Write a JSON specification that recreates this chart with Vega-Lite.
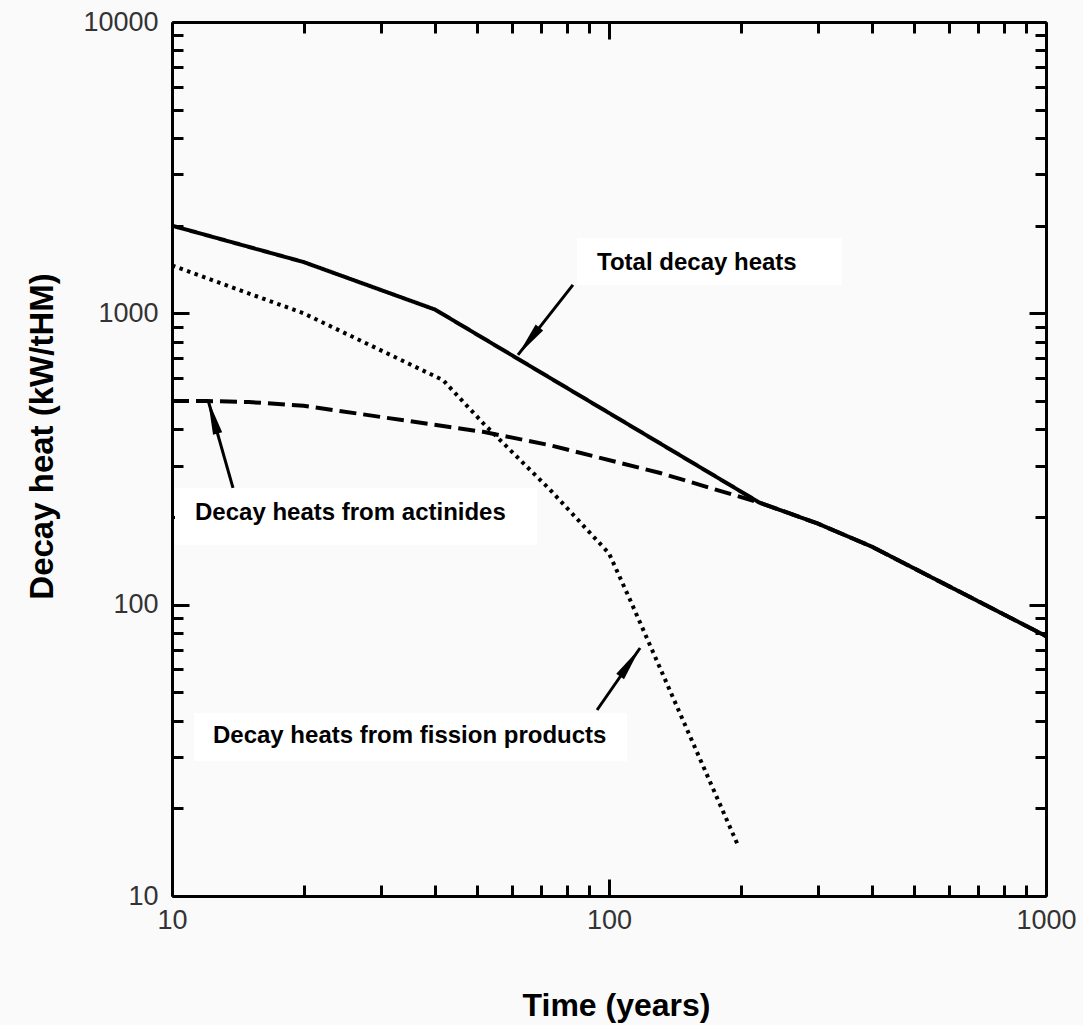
{
  "$schema": "https://vega.github.io/schema/vega-lite/v6.json",
  "width": 874,
  "height": 874,
  "autosize": {"type": "none"},
  "padding": {"left": 172, "top": 22, "right": 37, "bottom": 129},
  "background": "#fafafa",
  "config": {
    "view": {"stroke": null},
    "axis": {
      "grid": false,
      "domainColor": "black",
      "domainWidth": 3,
      "tickColor": "black",
      "tickWidth": 3,
      "tickSize": -11,
      "labelFont": "Liberation Sans",
      "labelFontSize": 27,
      "labelColor": "#333333",
      "labelFlush": false,
      "labelOverlap": false,
      "titleFont": "Liberation Sans",
      "titleFontWeight": "bold",
      "titleFontSize": 32,
      "titleColor": "black"
    }
  },
  "datasets": {
    "curves": [
      {"series": "Total", "t": 10, "heat": 2000},
      {"series": "Total", "t": 20, "heat": 1500},
      {"series": "Total", "t": 40, "heat": 1030},
      {"series": "Total", "t": 100, "heat": 455},
      {"series": "Total", "t": 221, "heat": 224},
      {"series": "Total", "t": 300, "heat": 190},
      {"series": "Total", "t": 400, "heat": 158},
      {"series": "Total", "t": 1000, "heat": 78},
      {"series": "Actinides", "t": 10, "heat": 500},
      {"series": "Actinides", "t": 12, "heat": 500},
      {"series": "Actinides", "t": 15, "heat": 496},
      {"series": "Actinides", "t": 20, "heat": 482},
      {"series": "Actinides", "t": 30, "heat": 441},
      {"series": "Actinides", "t": 51.5, "heat": 392},
      {"series": "Actinides", "t": 73, "heat": 353},
      {"series": "Actinides", "t": 131, "heat": 283},
      {"series": "Actinides", "t": 221, "heat": 224},
      {"series": "Actinides", "t": 300, "heat": 190},
      {"series": "Actinides", "t": 400, "heat": 158},
      {"series": "Actinides", "t": 1000, "heat": 78},
      {"series": "Fission products", "t": 10, "heat": 1460},
      {"series": "Fission products", "t": 20, "heat": 1000},
      {"series": "Fission products", "t": 41.7, "heat": 590},
      {"series": "Fission products", "t": 51.5, "heat": 420},
      {"series": "Fission products", "t": 73.3, "heat": 248},
      {"series": "Fission products", "t": 100, "heat": 150},
      {"series": "Fission products", "t": 111.7, "heat": 104},
      {"series": "Fission products", "t": 197, "heat": 15}
    ],
    "boxes": [
      {"name": "Total", "t": 84.5, "t2": 341.4, "heat": 1815, "heat2": 1252},
      {"name": "Actinides", "t": 10.16, "t2": 68.4, "heat": 251.6, "heat2": 160.3},
      {"name": "Fission products", "t": 11.23, "t2": 109.9, "heat": 42.5, "heat2": 29.07}
    ],
    "labels": [
      {"label": "Total decay heats", "t": 93.9, "heat": 1409},
      {"label": "Decay heats from actinides", "t": 11.29, "heat": 195.3},
      {"label": "Decay heats from fission products", "t": 12.41, "heat": 33.5}
    ],
    "arrows": [
      {"arrow": "Total", "seq": 0, "t": 82.7, "heat": 1252},
      {"arrow": "Total", "seq": 1, "t": 61.9, "heat": 720},
      {"arrow": "Actinides", "seq": 0, "t": 13.79, "heat": 251.6},
      {"arrow": "Actinides", "seq": 1, "t": 12.09, "heat": 504},
      {"arrow": "Fission products", "seq": 0, "t": 93.9, "heat": 43.5},
      {"arrow": "Fission products", "seq": 1, "t": 117.8, "heat": 71}
    ]
  },
  "layer": [
    {
      "encoding": {
        "x": {
          "field": "t",
          "type": "quantitative",
          "title": "Time (years)",
          "scale": {"type": "log", "domain": [10, 1000]},
          "axis": {
            "orient": "bottom",
            "values": [10, 20, 30, 40, 50, 60, 70, 80, 90, 100, 200, 300, 400, 500, 600, 700, 800, 900, 1000],
            "labelExpr": "(datum.value == 10 || datum.value == 100 || datum.value == 1000) ? format(datum.value, 'd') : ''",
            "labelPadding": 28,
            "tickSize": {"condition": {"test": "datum.value == 10 || datum.value == 100 || datum.value == 1000", "value": -17}, "value": -11},
            "titleX": 444,
            "titleY": 119,
            "titleBaseline": "alphabetic"
          }
        },
        "y": {
          "field": "heat",
          "type": "quantitative",
          "title": "Decay heat (kW/tHM)",
          "scale": {"type": "log", "domain": [10, 10000]},
          "axis": {
            "orient": "left",
            "values": [10, 20, 30, 40, 50, 60, 70, 80, 90, 100, 200, 300, 400, 500, 600, 700, 800, 900, 1000, 2000, 3000, 4000, 5000, 6000, 7000, 8000, 9000, 10000],
            "labelExpr": "(datum.value == 10 || datum.value == 100 || datum.value == 1000 || datum.value == 10000) ? format(datum.value, 'd') : ''",
            "labelPadding": 31,
            "tickSize": {"condition": {"test": "datum.value == 10 || datum.value == 100 || datum.value == 1000 || datum.value == 10000", "value": -17}, "value": -11},
            "titleX": -120,
            "titleY": 414,
            "titleFontSize": 33,
            "titleAngle": 270,
            "titleBaseline": "alphabetic"
          }
        }
      },
      "layer": [
        {
          "data": {"name": "boxes"},
          "mark": {"type": "rect", "fill": "white", "stroke": null},
          "encoding": {
            "x2": {"field": "t2"},
            "y2": {"field": "heat2"}
          }
        },
        {
          "data": {"name": "curves"},
          "mark": {"type": "line", "color": "black", "strokeCap": "butt", "strokeJoin": "miter"},
          "encoding": {
            "detail": {"field": "series"},
            "order": {"field": "t", "type": "quantitative"},
            "strokeDash": {
              "field": "series",
              "type": "nominal",
              "scale": {"domain": ["Total", "Actinides", "Fission products"], "range": [[1, 0], [17, 7], [3.5, 4.5]]},
              "legend": null
            },
            "strokeWidth": {
              "field": "series",
              "type": "nominal",
              "scale": {"domain": ["Total", "Actinides", "Fission products"], "range": [4, 4, 3.5]},
              "legend": null
            }
          }
        },
        {
          "data": {"name": "arrows"},
          "mark": {"type": "line", "color": "black", "strokeWidth": 3, "strokeCap": "butt"},
          "encoding": {
            "detail": {"field": "arrow"},
            "order": {"field": "seq", "type": "quantitative"}
          }
        },
        {
          "data": {"name": "arrows"},
          "transform": [{"filter": "datum.seq == 1 && datum.arrow == 'Total'"}],
          "mark": {"type": "point", "shape": "M0,0L0.3,2.2L-0.3,2.2Z", "filled": true, "color": "black", "opacity": 1, "size": 1000, "angle": 218}
        },
        {
          "data": {"name": "arrows"},
          "transform": [{"filter": "datum.seq == 1 && datum.arrow == 'Actinides'"}],
          "mark": {"type": "point", "shape": "M0,0L0.3,2.2L-0.3,2.2Z", "filled": true, "color": "black", "opacity": 1, "size": 1000, "angle": 344}
        },
        {
          "data": {"name": "arrows"},
          "transform": [{"filter": "datum.seq == 1 && datum.arrow == 'Fission products'"}],
          "mark": {"type": "point", "shape": "M0,0L0.3,2.2L-0.3,2.2Z", "filled": true, "color": "black", "opacity": 1, "size": 1000, "angle": 35}
        },
        {
          "data": {"name": "labels"},
          "mark": {"type": "text", "align": "left", "baseline": "alphabetic", "font": "Liberation Sans", "fontWeight": "bold", "fontSize": 24, "color": "black"},
          "encoding": {
            "text": {"field": "label"}
          }
        }
      ]
    },
    {
      "data": {"name": "curves"},
      "mark": {"type": "point", "opacity": 0},
      "encoding": {
        "x": {
          "field": "t",
          "type": "quantitative",
          "scale": {"type": "log", "domain": [10, 1000]},
          "axis": {
            "orient": "top",
            "title": null,
            "labels": false,
            "values": [10, 20, 30, 40, 50, 60, 70, 80, 90, 100, 200, 300, 400, 500, 600, 700, 800, 900, 1000],
            "tickSize": {"condition": {"test": "datum.value == 10 || datum.value == 100 || datum.value == 1000", "value": -17}, "value": -11}
          }
        },
        "y": {
          "field": "heat",
          "type": "quantitative",
          "scale": {"type": "log", "domain": [10, 10000]},
          "axis": {
            "orient": "right",
            "title": null,
            "labels": false,
            "values": [10, 20, 30, 40, 50, 60, 70, 80, 90, 100, 200, 300, 400, 500, 600, 700, 800, 900, 1000, 2000, 3000, 4000, 5000, 6000, 7000, 8000, 9000, 10000],
            "tickSize": {"condition": {"test": "datum.value == 10 || datum.value == 100 || datum.value == 1000 || datum.value == 10000", "value": -17}, "value": -11}
          }
        }
      }
    }
  ],
  "resolve": {"axis": {"x": "independent", "y": "independent"}}
}
